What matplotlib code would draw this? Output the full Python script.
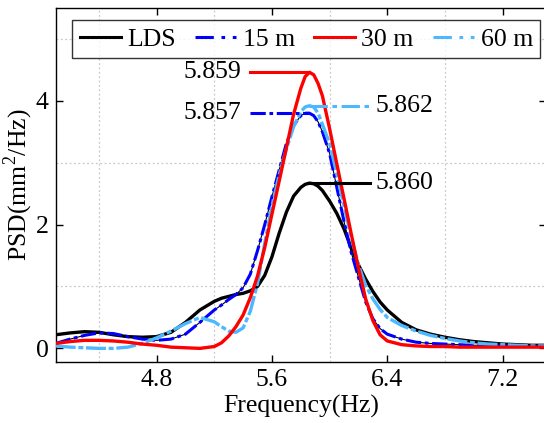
import matplotlib
matplotlib.use("Agg")
import matplotlib.pyplot as plt
from matplotlib.lines import Line2D

plt.rcParams['font.family'] = ['Liberation Serif', 'DejaVu Serif']
plt.rcParams['mathtext.fontset'] = 'custom'
plt.rcParams['mathtext.rm'] = 'Liberation Serif'

freq = [4.1, 4.2, 4.3, 4.4, 4.5, 4.6, 4.7, 4.8, 4.9, 5.0, 5.1, 5.2,
        5.25, 5.3, 5.35, 5.4, 5.45, 5.5, 5.55, 5.6, 5.65, 5.7, 5.75, 5.8,
        5.83, 5.86, 5.89, 5.92, 5.95,
        6.0, 6.05, 6.1, 6.15, 6.2, 6.25, 6.3, 6.35, 6.4,
        6.5, 6.6, 6.7, 6.8, 6.9, 7.0, 7.1, 7.2, 7.3, 7.4, 7.5]

lds = [0.22, 0.25, 0.27, 0.26, 0.22, 0.19, 0.18, 0.19, 0.26, 0.42, 0.62, 0.76,
       0.81, 0.84, 0.87, 0.89, 0.93, 1.00, 1.18, 1.48, 1.86, 2.20, 2.46, 2.60,
       2.65, 2.67, 2.66, 2.62, 2.55,
       2.38, 2.18, 1.93, 1.62, 1.35, 1.12, 0.92, 0.75, 0.62,
       0.42, 0.30, 0.23, 0.18, 0.14, 0.11, 0.09, 0.07, 0.06, 0.05, 0.05]

m15 = [0.08, 0.15, 0.21, 0.25, 0.24, 0.19, 0.15, 0.13, 0.15, 0.23, 0.42, 0.62,
       0.70, 0.79, 0.87, 0.98, 1.20, 1.58, 2.00, 2.45, 2.88, 3.31, 3.60, 3.76,
       3.80, 3.80, 3.76, 3.66, 3.50,
       3.15, 2.60, 2.05, 1.55, 1.15, 0.75, 0.48, 0.32, 0.23,
       0.15, 0.10, 0.08, 0.07, 0.06, 0.05, 0.05, 0.04, 0.04, 0.04, 0.04]

m30 = [0.08, 0.11, 0.13, 0.13, 0.12, 0.10, 0.07, 0.05, 0.02, 0.01, 0.00, 0.03,
       0.09, 0.20, 0.35, 0.54, 0.82, 1.17, 1.63, 2.17, 2.70, 3.24, 3.78, 4.20,
       4.39, 4.46, 4.42, 4.28, 4.08,
       3.55, 2.98, 2.42, 1.85, 1.30, 0.80, 0.45, 0.22, 0.12,
       0.06, 0.04, 0.03, 0.03, 0.02, 0.02, 0.02, 0.02, 0.02, 0.02, 0.02]

m60 = [0.04, 0.02, 0.01, 0.00, 0.00, 0.02, 0.08, 0.17, 0.28, 0.40, 0.50, 0.43,
       0.35, 0.28, 0.26, 0.33, 0.60, 1.05, 1.70, 2.30, 2.80, 3.22, 3.58, 3.82,
       3.90, 3.92, 3.90, 3.80, 3.62,
       3.31, 2.82, 2.30, 1.80, 1.35, 1.02, 0.80, 0.63, 0.50,
       0.37, 0.28, 0.21, 0.16, 0.12, 0.09, 0.07, 0.06, 0.05, 0.04, 0.04]

labels = ['LDS', '15 m', '30 m', '60 m']
peak_f = 5.86
peak_labels = {'LDS': '5.860', '15 m': '5.857', '30 m': '5.859', '60 m': '5.862'}

c_lds = 'black'
c_15 = '#0000ff'
c_30 = '#ff0000'
c_60 = '#4db8ff'
dd = (5, 1.2, 1.2, 1.2)

fig = plt.figure(figsize=(5.44, 4.23), dpi=100)
ax = fig.add_axes([0.1024, 0.1442, 0.901, 0.837])

ax.plot(freq, lds, color=c_lds, lw=2.4, zorder=3)
ax.plot(freq, m15, color='black', lw=0.8, zorder=3)
ax.plot(freq, m15, color=c_15, lw=2.2, dashes=dd, zorder=4)
ax.plot(freq, m60, color=c_60, lw=2.4, dashes=(6, 0.8, 1.5, 0.8), zorder=4)
ax.plot(freq, m30, color=c_30, lw=2.4, zorder=5)

# peak annotations
pk = {'LDS': max(lds), '15 m': max(m15), '30 m': max(m30), '60 m': max(m60)}
fs = 18.5
ax.plot([5.45, peak_f], [pk['30 m']] * 2, color=c_30, lw=2.2, zorder=5)
ax.text(5.39, pk['30 m'], peak_labels['30 m'], ha='right', va='center', fontsize=fs)
ax.plot([5.45, peak_f], [pk['15 m']] * 2, color=c_15, lw=2.2, dashes=dd, zorder=5)
ax.text(5.39, pk['15 m'], peak_labels['15 m'], ha='right', va='center', fontsize=fs)
ax.plot([peak_f, 6.28], [pk['60 m']] * 2, color=c_60, lw=2.2, dashes=(6, 1.5, 1.5, 1.5), zorder=5)
ax.text(6.32, pk['60 m'], peak_labels['60 m'], ha='left', va='center', fontsize=fs)
ax.plot([peak_f, 6.28], [pk['LDS']] * 2, color=c_lds, lw=2.2, zorder=5)
ax.text(6.32, pk['LDS'], peak_labels['LDS'], ha='left', va='center', fontsize=fs)

ax.set_xlim(4.1, 7.5)
ax.set_ylim(-0.22, 5.5)
ax.set_xticks([4.8, 5.6, 6.4, 7.2])
ax.set_xticklabels(['4.8', '5.6', '6.4', '7.2'])
ax.set_yticks([0, 2, 4])
ax.set_xticks([4.4, 5.2, 6.0, 6.8], minor=True)
ax.set_yticks([1, 3, 5], minor=True)
ax.grid(True, which='minor', color='#c8c8c8', ls=(0, (1.5, 2)), lw=0.9)
ax.tick_params(which='major', direction='in', top=True, right=True, length=5,
               width=1, labelsize=fs, pad=5)
ax.tick_params(which='minor', length=0)
for s in ax.spines.values():
    s.set_linewidth(1.0)

ax.set_xlabel('Frequency(Hz)', fontsize=fs, labelpad=3)
ax.set_ylabel('PSD(mm$^2$/Hz)', fontsize=fs, labelpad=0.5)

handles = [Line2D([], [], color=c_lds, lw=2.2),
           Line2D([], [], color=c_15, lw=2.2, dashes=(6, 2.5, 1.2, 2.5)),
           Line2D([], [], color=c_30, lw=2.2),
           Line2D([], [], color=c_60, lw=2.2, dashes=(6, 2.5, 1.2, 2.5))]
leg = ax.legend(handles, labels, ncol=4, loc='upper left', bbox_to_anchor=(0.033, 0.966),
                fontsize=fs, handlelength=1.6, handletextpad=0.25, columnspacing=0.75,
                borderpad=0.3, borderaxespad=0, frameon=True, fancybox=False)
leg.get_frame().set_edgecolor('black')
leg.get_frame().set_linewidth(1.0)

fig.savefig('out.png', dpi=100)
